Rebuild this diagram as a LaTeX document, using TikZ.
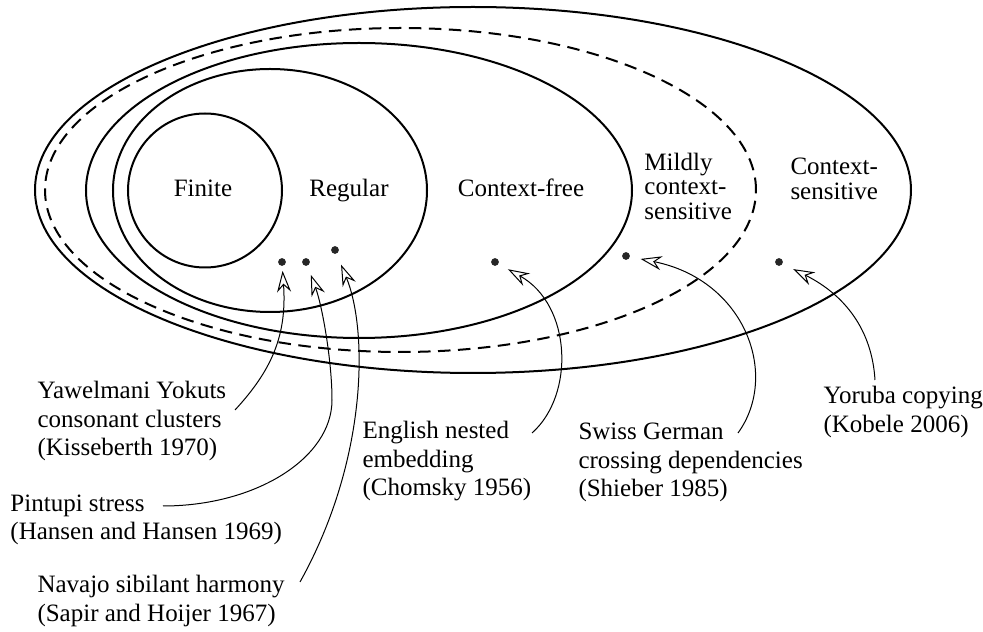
\documentclass[tikz,border=0pt]{standalone}
\usepackage{fontspec}
\setmainfont{Liberation Serif}
\usetikzlibrary{arrows.meta}
\newcommand{\mylbl}[2]{{\fontsize{10}{#1}\selectfont\begin{tabular}[t]{@{}l@{}}#2\end{tabular}}}
\begin{document}
\begin{tikzpicture}[x=0.4pt,y=0.4pt,
  set/.style={line width=0.8pt},
  dot/.style={circle,fill=black!85,inner sep=0pt,minimum size=3.1pt},
  arr/.style={line width=0.4pt,-{Stealth[open,length=8.5pt,width=5.6pt,inset=2.8pt]}},
  lab/.style={anchor=base west,inner sep=0pt},
  cls/.style={anchor=base,inner sep=0pt},
  every node/.style={font=\fontsize{10}{11.35}\selectfont}]
\useasboundingbox (0,0) rectangle (983,-632);
% language classes
\draw[set] (473,-190) ellipse [x radius=438, y radius=183];
\draw[set, dash pattern=on 5pt off 3pt] (400.5,-190) ellipse [x radius=355.5, y radius=162];
\draw[set] (359,-190.5) ellipse [x radius=273, y radius=147.5];
\draw[set] (270,-190.5) ellipse [x radius=157, y radius=121.5];
\draw[set] (205,-190.5) circle [radius=77];
% class labels
\node[cls] (fin) at (203,-197) {Finite};
\node[cls] (reg) at (349,-197) {Regular};
\node[cls] (cf) at (521,-197) {Context-free};
\node[lab] (mcs) at (644,-170.5) {\mylbl{9.8pt}{Mildly\\context-\\sensitive}};
\node[lab] (cs) at (790,-175) {\mylbl{9.8pt}{Context-\\sensitive}};
% example languages
\node[dot] (d1) at (282,-262) {};
\node[dot] (d2) at (306,-262) {};
\node[dot] (d3) at (335,-250) {};
\node[dot] (d4) at (495,-262) {};
\node[dot] (d5) at (626,-256) {};
\node[dot] (d6) at (779,-262) {};
% example labels
\node[lab] (yaw) at (37,-399) {\mylbl{11.35pt}{Yawelmani Yokuts\\consonant clusters\\(Kisseberth 1970)}};
\node[lab] (pin) at (10,-511.5) {\mylbl{11.35pt}{Pintupi stress\\(Hansen and Hansen 1969)}};
\node[lab] (nav) at (37,-593) {\mylbl{11.35pt}{Navajo sibilant harmony\\(Sapir and Hoijer 1967)}};
\node[lab] (eng) at (362,-439) {\mylbl{11.35pt}{English nested\\embedding\\(Chomsky 1956)}};
\node[lab] (swi) at (578,-440) {\mylbl{11.35pt}{Swiss German\\crossing dependencies\\(Shieber 1985)}};
\node[lab] (yor) at (823,-404) {\mylbl{11.35pt}{Yoruba copying\\(Kobele 2006)}};
% arrow start points
\coordinate (yaw-s) at (235,-410);
\coordinate (pin-s) at (163,-506);
\coordinate (nav-s) at (300,-582);
\coordinate (eng-s) at (532,-433);
\coordinate (swi-s) at (738,-433);
\coordinate (yor-s) at (875,-380);
% arrows
\draw[arr, shorten >=1.8pt] (yaw-s) .. controls (272,-370) and (287,-335) .. (d1);
\draw[arr, shorten >=3.7pt] (pin-s) .. controls (256,-506) and (332,-458) .. (332,-400)
   .. controls (332,-360) and (322,-305) .. (d2);
\draw[arr, shorten >=4.6pt] (nav-s) .. controls (368,-460) and (368,-330) .. (d3);
\draw[arr, shorten >=4.2pt] (eng-s) .. controls (575,-395) and (572,-305) .. (d4);
\draw[arr, shorten >=4.2pt] (swi-s) .. controls (780,-375) and (745,-280) .. (d5);
\draw[arr, shorten >=4.6pt] (yor-s) .. controls (872,-330) and (845,-295) .. (d6);
\end{tikzpicture}
\end{document}
